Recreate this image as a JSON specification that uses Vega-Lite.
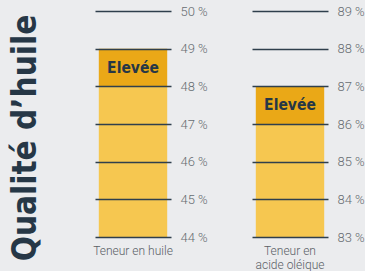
{
  "$schema": "https://vega.github.io/schema/vega-lite/v6.json",
  "background": "#ebecee",
  "padding": {"left": 10, "top": 5, "right": 0, "bottom": 0},
  "title": {
    "text": "Qualité d’huile",
    "orient": "left",
    "anchor": "middle",
    "font": "DejaVu Sans Condensed, DejaVu Sans, sans-serif",
    "fontWeight": "bold",
    "fontSize": 33,
    "color": "#263746",
    "offset": 50
  },
  "datasets": {
    "huile": [
      {"segment": "Normale", "start": 44, "end": 48, "label": ""},
      {"segment": "Elevée", "start": 48, "end": 49, "label": "Elevée"}
    ],
    "oleique": [
      {"segment": "Normale", "start": 83, "end": 86, "label": ""},
      {"segment": "Elevée", "start": 86, "end": 87, "label": "Elevée"}
    ]
  },
  "hconcat": [
    {
      "width": 76,
      "height": 226,
      "title": {"text": "Teneur en huile", "orient": "bottom", "offset": 2},
      "data": {"name": "huile"},
      "layer": [
        {
          "mark": {"type": "bar"},
          "encoding": {
            "y": {"field": "start", "type": "quantitative", "scale": {"domain": [44, 50], "nice": false, "zero": false},
              "axis": {"orient": "right", "zindex": 1, "values": [44, 45, 46, 47, 48, 49, 50], "tickCount": 10, "labelExpr": "datum.value + ' %'", "title": null}},
            "y2": {"field": "end"},
            "color": {"field": "segment", "type": "nominal", "scale": {"domain": ["Normale", "Elevée"], "range": ["#f6c750", "#eaa817"]}, "legend": null}
          }
        },
        {
          "transform": [{"filter": "datum.label != ''"}, {"calculate": "(datum.start + datum.end) / 2", "as": "mid"}],
          "mark": {"type": "text", "font": "DejaVu Sans Condensed, DejaVu Sans, sans-serif", "fontWeight": "bold", "fontSize": 15.5, "color": "#263746", "baseline": "middle"},
          "encoding": {
            "y": {"field": "mid", "type": "quantitative", "axis": {"orient": "right", "zindex": 1}},
            "text": {"field": "label"}
          }
        }
      ]
    },
    {
      "width": 76,
      "height": 226,
      "title": {"text": ["Teneur en", "acide oléique"], "orient": "bottom", "offset": 2},
      "data": {"name": "oleique"},
      "layer": [
        {
          "mark": {"type": "bar"},
          "encoding": {
            "y": {"field": "start", "type": "quantitative", "scale": {"domain": [83, 89], "nice": false, "zero": false},
              "axis": {"orient": "right", "zindex": 1, "values": [83, 84, 85, 86, 87, 88, 89], "tickCount": 10, "labelExpr": "datum.value + ' %'", "title": null}},
            "y2": {"field": "end"},
            "color": {"field": "segment", "type": "nominal", "scale": {"domain": ["Normale", "Elevée"], "range": ["#f6c750", "#eaa817"]}, "legend": null}
          }
        },
        {
          "transform": [{"filter": "datum.label != ''"}, {"calculate": "(datum.start + datum.end) / 2", "as": "mid"}],
          "mark": {"type": "text", "font": "DejaVu Sans Condensed, DejaVu Sans, sans-serif", "fontWeight": "bold", "fontSize": 15.5, "color": "#263746", "baseline": "middle"},
          "encoding": {
            "y": {"field": "mid", "type": "quantitative", "axis": {"orient": "right", "zindex": 1}},
            "text": {"field": "label"}
          }
        }
      ]
    }
  ],
  "resolve": {"scale": {"color": "independent"}},
  "spacing": 44,
  "config": {
    "view": {"stroke": null},
    "axis": {
      "grid": true,
      "gridColor": "#2f3f4c",
      "gridWidth": 1.5,
      "gridOpacity": 1,
      "domain": false,
      "ticks": false,
      "labelPadding": 9,
      "labelOverlap": false,
      "labelFont": "Roboto",
      "labelFontWeight": 300,
      "labelFontSize": 13,
      "labelColor": "#676c72"
    },
    "title": {
      "font": "Roboto",
      "fontSize": 12,
      "fontWeight": 300,
      "color": "#5a6066",
      "lineHeight": 14
    }
  }
}
